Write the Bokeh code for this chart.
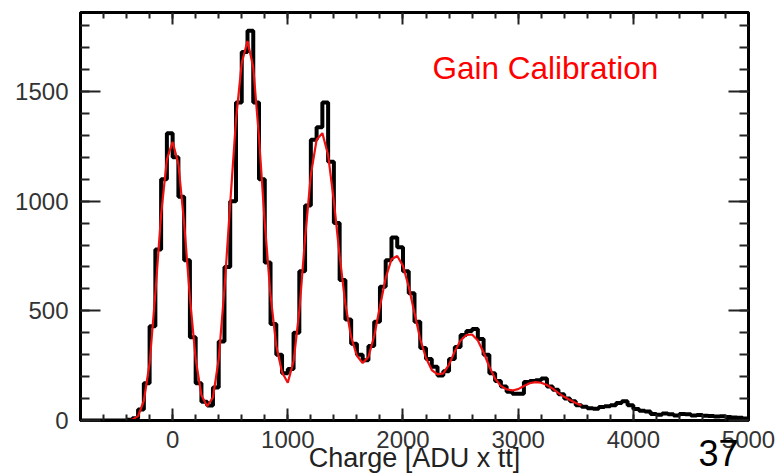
import numpy as np
from bokeh.plotting import figure
from bokeh.models import Range1d, LinearAxis, SingleIntervalTicker, FixedTicker, Label
from bokeh.embed import file_html
from bokeh.resources import INLINE

# ---------------- data ----------------
BIN_START = -800          # left edge of first bin [ADU x tt]
BIN_WIDTH = 50            # bin width [ADU x tt]
hist_counts = [
    0, 0, 0, 0, 0, 0, 0, 0,                      # -800 .. -400
    3, 10, 50, 170, 430, 780, 1100, 1310,        # -400 .. 0
    1200, 1020, 730, 380, 170, 85, 68, 150,      # 0 .. 400
    360, 700, 1000, 1450, 1680, 1777, 1450, 1100,  # 400 .. 800
    720, 440, 300, 215, 235, 400, 680, 980,      # 800 .. 1200
    1280, 1337, 1450, 1180, 900, 640, 460, 350,  # 1200 .. 1600
    300, 275, 340, 450, 610, 730, 834, 790,      # 1600 .. 2000
    680, 580, 450, 330, 280, 245, 205, 225,      # 2000 .. 2400
    280, 335, 390, 408, 417, 372, 300, 215,      # 2400 .. 2800
    180, 155, 131, 122, 122, 175, 180, 183,      # 2800 .. 3200
    192, 155, 140, 120, 100, 88, 70, 63,         # 3200 .. 3600
    56, 54, 62, 65, 70, 80, 88, 70,              # 3600 .. 4000
    52, 45, 41, 30, 26, 32, 28, 23,              # 4000 .. 4400
    30, 28, 23, 25, 22, 20, 18, 19,              # 4400 .. 4800
    16, 14, 12, 9,                               # 4800 .. 5000
]

FIT_START = -800
FIT_STEP = 50
fit_values = [
    0, 0, 0, 0, 0, 0, 0, 0,                      # -800 .. -450
    1, 4, 20, 90, 260, 580, 940, 1190,           # -400 .. -50
    1270, 1170, 900, 560, 280, 115, 65, 105,     # 0 .. 350
    280, 600, 990, 1370, 1630, 1730, 1610, 1290,  # 400 .. 750
    900, 570, 340, 220, 172, 270, 500, 830,      # 800 .. 1150
    1120, 1280, 1310, 1210, 1000, 750, 530, 380,  # 1200 .. 1550
    295, 262, 290, 385, 520, 650, 735, 750,      # 1600 .. 1950
    705, 610, 490, 370, 285, 230, 210, 215,      # 2000 .. 2350
    255, 315, 365, 390, 392, 365, 310, 245,      # 2400 .. 2750
    190, 158, 142, 137, 143, 157, 170, 175,      # 2800 .. 3150
    172, 162, 145, 125, 108, 93, 80, 68,         # 3200 .. 3550
]

X_MIN, X_MAX = -800, 5000
Y_MIN, Y_MAX = 0, 1860
X_MAJOR = 1000
Y_MAJOR = 500

TITLE_TEXT = "Gain Calibration"
X_LABEL = "Charge [ADU x tt]"
PAGE_NUMBER = "37"
PAGE_NUMBER_AT = 4740     # horizontal place of the slide number (axis units)

FONT = "Liberation Sans"

# ---------------- figure ----------------
p = figure(width=776, height=475, output_backend="svg", toolbar_location=None,
           x_range=Range1d(X_MIN, X_MAX), y_range=Range1d(Y_MIN, Y_MAX),
           min_border_left=80, min_border_right=28, min_border_top=12,
           min_border_bottom=53, x_axis_location=None, y_axis_location=None)
p.background_fill_color = "white"
p.border_fill_color = "white"
p.outline_line_color = "black"
p.outline_line_width = 3
p.xgrid.visible = False
p.ygrid.visible = False


def make_axis(interval, show_labels, tick_major, tick_minor):
    ax = LinearAxis(ticker=SingleIntervalTicker(interval=interval, num_minor_ticks=5))
    ax.axis_line_color = "black"
    ax.axis_line_width = 3
    ax.major_tick_in = tick_major
    ax.major_tick_out = 0
    ax.minor_tick_in = tick_minor
    ax.minor_tick_out = 0
    ax.major_tick_line_color = "#222222"
    ax.minor_tick_line_color = "#222222"
    ax.major_tick_line_width = 2
    ax.minor_tick_line_width = 2
    ax.major_label_text_font = FONT
    ax.major_label_text_color = "#333333"
    if show_labels:
        ax.major_label_text_font_size = "24px"
    else:
        ax.major_label_text_font_size = "0px"
        ax.major_label_standoff = 0
    return ax

xb = make_axis(X_MAJOR, True, 12, 6)
xb.major_label_standoff = 10
xb.axis_label = X_LABEL
xb.axis_label_text_font = FONT
xb.axis_label_text_font_size = "27px"
xb.axis_label_text_font_style = "normal"
xb.axis_label_text_color = "#222222"
xb.axis_label_standoff = -8
p.add_layout(xb, "below")

# slide page number, shown as the only label of an extra bottom axis
pg = LinearAxis(ticker=FixedTicker(ticks=[PAGE_NUMBER_AT]),
                major_label_overrides={PAGE_NUMBER_AT: PAGE_NUMBER})
pg.axis_line_color = None
pg.major_tick_in = 0
pg.major_tick_out = 0
pg.minor_tick_in = 0
pg.minor_tick_out = 0
pg.major_label_text_font = FONT
pg.major_label_text_font_size = "36px"
pg.major_label_text_color = "black"
pg.major_label_standoff = -36
p.add_layout(pg, "below")

xt = make_axis(X_MAJOR, False, 12, 6)
p.add_layout(xt, "above")

yl = make_axis(Y_MAJOR, True, 20, 9)
yl.major_label_standoff = 12
p.add_layout(yl, "left")

yr = make_axis(Y_MAJOR, False, 20, 9)
p.add_layout(yr, "right")

# ---------------- histogram (step) ----------------
edges = BIN_START + BIN_WIDTH * np.arange(len(hist_counts) + 1)
step_y = list(hist_counts) + [hist_counts[-1]]
p.step(edges, step_y, mode="after", line_color="black", line_width=4)

# ---------------- fit curve ----------------
fit_x = FIT_START + FIT_STEP * np.arange(len(fit_values))
p.line(fit_x, fit_values, line_color="#ee1111", line_width=2.2)

# ---------------- texts ----------------
p.add_layout(Label(x=352, y=353, x_units="screen", y_units="screen",
                   text=TITLE_TEXT, text_color="#ff0000", text_font=FONT,
                   text_font_size="31.5px", text_baseline="alphabetic"))

open("out.html", "w").write(file_html(p, INLINE))
